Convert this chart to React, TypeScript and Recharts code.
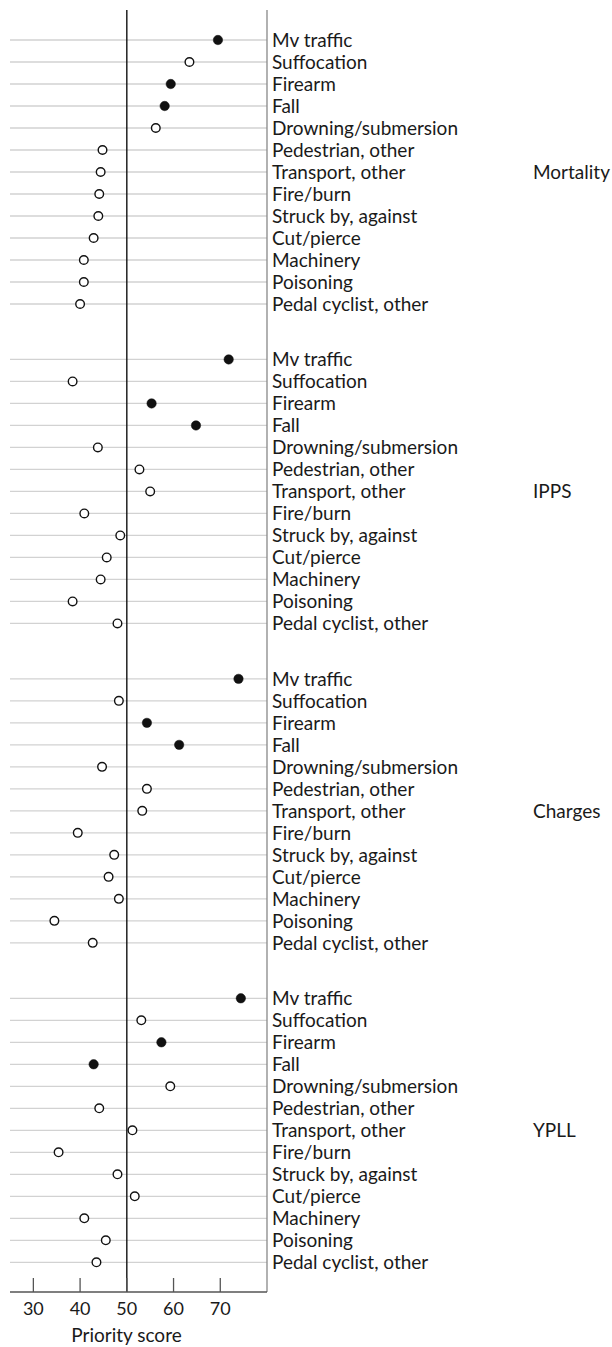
import React from 'react';
import { ScatterChart, Scatter, XAxis, YAxis, ReferenceLine, Label } from 'recharts';

const CATEGORIES = [
  'Mv traffic',
  'Suffocation',
  'Firearm',
  'Fall',
  'Drowning/submersion',
  'Pedestrian, other',
  'Transport, other',
  'Fire/burn',
  'Struck by, against',
  'Cut/pierce',
  'Machinery',
  'Poisoning',
  'Pedal cyclist, other',
];
const PANELS = ['Mortality', 'IPPS', 'Charges', 'YPLL'];
const HIGHLIGHTED = ['Mv traffic', 'Firearm', 'Fall'];

const MORTALITY = [69.5, 63.4, 59.4, 58.1, 56.2, 44.8, 44.4, 44.1, 43.9, 42.9, 40.8, 40.8, 40.0];
const IPPS = [71.8, 38.4, 55.3, 64.8, 43.8, 52.7, 55.0, 40.9, 48.6, 45.7, 44.4, 38.4, 48.0];
const CHARGES = [73.9, 48.3, 54.3, 61.2, 44.7, 54.3, 53.3, 39.5, 47.3, 46.1, 48.3, 34.5, 42.7];
const YPLL = [74.4, 53.1, 57.4, 42.9, 59.3, 44.1, 51.2, 35.4, 48.0, 51.7, 40.9, 45.5, 43.5];

const SERIES = [MORTALITY, IPPS, CHARGES, YPLL];
const X_TICKS = [30, 40, 50, 60, 70];
const X_DOMAIN = [25, 80];

// layout (in row units)
const PANEL_STRIDE = 14.52;
const Y_DOMAIN = [-1.364, 56.91];
const LABEL_ROW = 6;
const FONT = 'Lato, sans-serif';

type Row = { y: number; cat: string; panel: number; idx: number };
const ROWS: Row[] = [];
PANELS.forEach((_, p) => {
  CATEGORIES.forEach((cat, i) => {
    ROWS.push({ y: p * PANEL_STRIDE + i, cat, panel: p, idx: i });
  });
});

const POINTS = ROWS.map((r) => ({
  x: SERIES[r.panel][r.idx],
  y: r.y,
  filled: HIGHLIGHTED.includes(r.cat),
}));

const Dot = (props: any) => {
  const { cx, cy, payload } = props;
  if (cx == null || cy == null) return null;
  return payload.filled ? (
    <circle cx={cx} cy={cy} r={4.7} fill="#111" stroke="#111" strokeWidth={0.5} />
  ) : (
    <circle cx={cx} cy={cy} r={4.3} fill="#fff" stroke="#111" strokeWidth={1.4} />
  );
};

const YTick = (props: any) => {
  const { x, y, payload } = props;
  const row = ROWS.find((r) => Math.abs(r.y - payload.value) < 1e-6);
  if (!row) return null;
  return (
    <g>
      <text x={x + 5} y={y + 6.8} textAnchor="start" fontFamily={FONT} fontSize={19} fill="#1a1a1a">
        {row.cat}
      </text>
      {row.idx === LABEL_ROW ? (
        <text x={x + 266} y={y + 6.8} textAnchor="start" fontFamily={FONT} fontSize={19} fill="#1a1a1a">
          {PANELS[row.panel]}
        </text>
      ) : null}
    </g>
  );
};

const XTick = (props: any) => {
  const { x, y, payload } = props;
  return (
    <g>
      <line x1={x} x2={x} y1={y - 14} y2={y} stroke="#555" strokeWidth={1.3} />
      <text x={x} y={y + 22.5} textAnchor="middle" fontFamily={FONT} fontSize={18} fill="#1a1a1a">
        {payload.value}
      </text>
    </g>
  );
};

const AxisTitle = (props: any) => {
  const vb = props.viewBox || {};
  return (
    <text
      x={vb.x + vb.width / 2 - 12}
      y={vb.y + 49.5}
      textAnchor="middle"
      fontFamily={FONT}
      fontSize={19}
      fill="#1a1a1a"
    >
      Priority score
    </text>
  );
};

export default function App() {
  return (
    <div style={{ position: 'absolute', left: 0, top: 0, width: 612, height: 1347, background: '#fff' }}>
      <ScatterChart width={612} height={1347} margin={{ top: 10, right: 0, left: 10, bottom: 0 }}>
        <XAxis
          type="number"
          dataKey="x"
          domain={X_DOMAIN}
          ticks={X_TICKS}
          height={55}
          tickLine={false}
          tickSize={0}
          tickMargin={0}
          tick={<XTick />}
          axisLine={{ stroke: '#555', strokeWidth: 1.3 }}
          allowDataOverflow
        >
          <Label content={<AxisTitle />} />
        </XAxis>
        <YAxis
          type="number"
          dataKey="y"
          orientation="right"
          reversed
          domain={Y_DOMAIN}
          ticks={ROWS.map((r) => r.y)}
          interval={0}
          width={345}
          axisLine={false}
          tickLine={false}
          tickSize={0}
          tickMargin={0}
          tick={<YTick />}
          allowDataOverflow
        />
        {ROWS.map((r) => (
          <ReferenceLine key={`row-${r.y}`} y={r.y} stroke="#d2d2d2" strokeWidth={1.3} />
        ))}
        <ReferenceLine x={50} stroke="#111" strokeWidth={1.4} />
        <ReferenceLine x={80} stroke="#888" strokeWidth={1.3} />
        <Scatter data={POINTS} shape={<Dot />} isAnimationActive={false} />
      </ScatterChart>
    </div>
  );
}
